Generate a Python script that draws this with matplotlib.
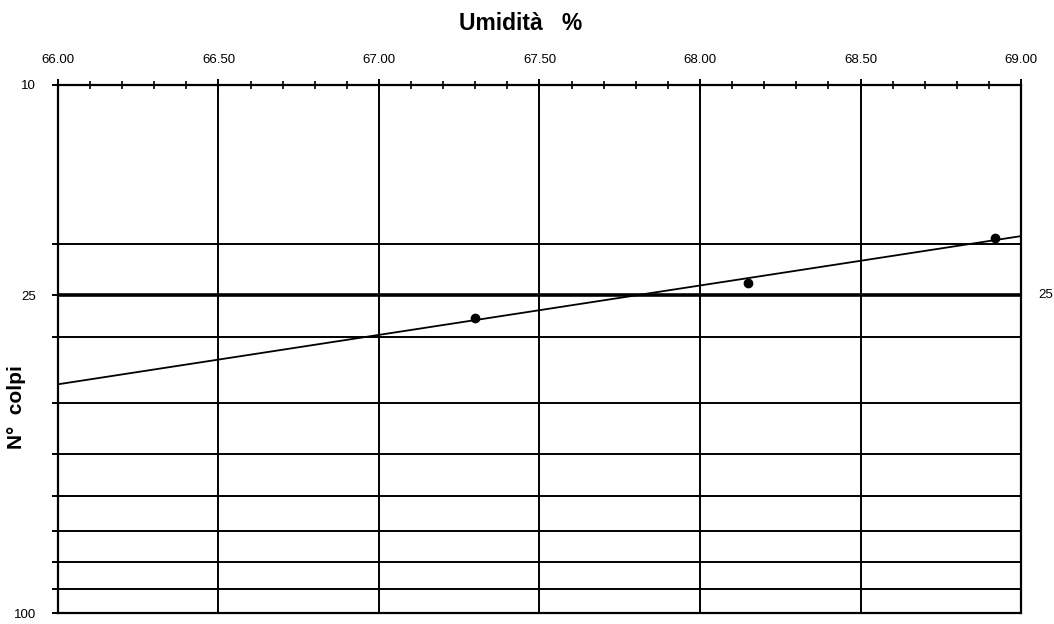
import numpy as np
import matplotlib
matplotlib.use("Agg")
from matplotlib import pyplot as plt
from matplotlib.ticker import FixedLocator, NullFormatter, FormatStrFormatter
import matplotlib.transforms as mtransforms

plt.rcParams['font.family'] = ['Liberation Sans', 'DejaVu Sans']

# measured points: water content (%) and number of blows
umidita = [67.30, 68.15, 68.92]
colpi = [27.6, 23.7, 19.45]

x_major = [66.0, 66.5, 67.0, 67.5, 68.0, 68.5, 69.0]
x_minor = list(np.arange(66.0, 69.0001, 0.1))
y_labels = [10, 25, 100]
y_grid = [20, 30, 40, 50, 60, 70, 80, 90]
y_ref = 25

fig = plt.figure(figsize=(10.54, 6.24), dpi=100)
ax = fig.add_axes([0.055, 0.0176, 0.9137, 0.8462])

ax.set_yscale('log')
ax.set_xlim(66.0, 69.0)
ax.set_ylim(100, 10)

# grid
for v in x_major[1:]:
    ax.axvline(v, color='black', lw=1.4, zorder=1)
for v in y_grid:
    ax.axhline(v, color='black', lw=1.4, zorder=1)
ax.axhline(y_ref, color='black', lw=2.6, zorder=1)

# fit line on log scale over whole range
coef = np.polyfit(umidita, np.log10(colpi), 1)
xs = np.array([66.0, 69.0])
ax.plot(xs, 10 ** np.polyval(coef, xs), color='black', lw=1.3, zorder=3)
ax.plot(umidita, colpi, 'o', color='black', ms=6, zorder=4)

# x axis on top
ax.xaxis.set_ticks_position('top')
ax.xaxis.set_major_locator(FixedLocator(x_major))
ax.xaxis.set_minor_locator(FixedLocator(x_minor))
ax.xaxis.set_major_formatter(FormatStrFormatter('%.2f'))
ax.tick_params(axis='x', which='major', direction='inout', length=8, width=1.4,
               labelsize=9.5, pad=10)
ax.tick_params(axis='x', which='minor', direction='inout', length=6, width=1.2)

# y axis
ax.yaxis.set_major_locator(FixedLocator(y_labels))
ax.yaxis.set_major_formatter(FormatStrFormatter('%d'))
ax.yaxis.set_minor_locator(FixedLocator(y_grid))
ax.yaxis.set_minor_formatter(NullFormatter())
ax.tick_params(axis='y', which='major', direction='out', length=4, width=1.4,
               labelsize=9.5, pad=12)
ax.tick_params(axis='y', which='minor', direction='out', length=4, width=1.4)

trans = mtransforms.blended_transform_factory(ax.transAxes, ax.transData)
ax.text(1.018, y_ref, '25', transform=trans, fontsize=9.5, va='center', ha='left')

for s in ax.spines.values():
    s.set_linewidth(1.6)

fig.text(0.494, 0.962, 'Umidità   %', fontsize=16.5, fontweight='bold',
         ha='center', va='center')
fig.text(0.016, 0.348, 'N°  colpi', fontsize=15, fontweight='bold',
         rotation=90, ha='center', va='center')

fig.savefig('out.png', dpi=100)
